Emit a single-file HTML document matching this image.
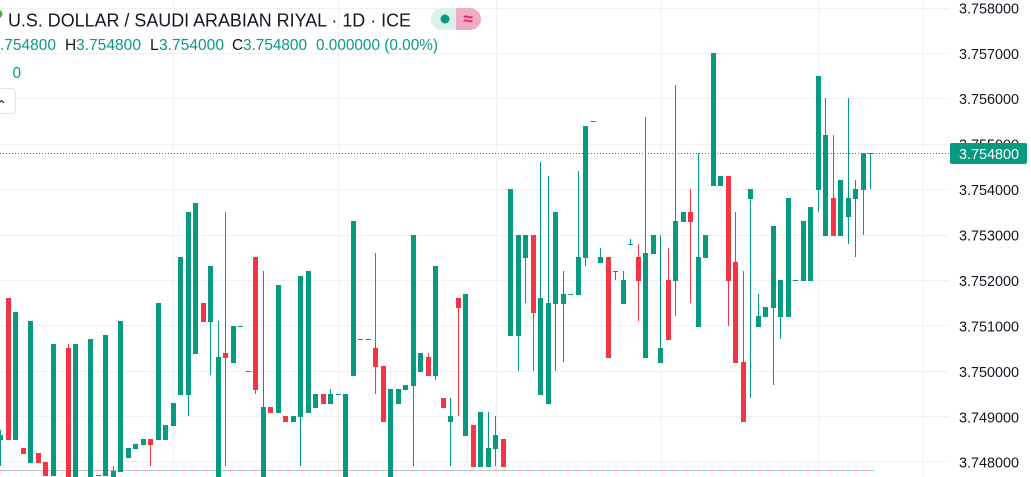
<!DOCTYPE html>
<html><head><meta charset="utf-8">
<style>
html,body{margin:0;padding:0;background:#fff;}
body{width:1031px;height:477px;overflow:hidden;}
svg{display:block;}
text{font-family:"Liberation Sans",sans-serif;}
</style></head>
<body>
<svg width="1031" height="477" viewBox="0 0 1031 477" xmlns="http://www.w3.org/2000/svg">
<rect width="1031" height="477" fill="#fff"/>
<!-- grid -->
<g fill="#f0f1f4">
<rect x="0" y="8" width="949" height="1"/>
<rect x="0" y="53" width="949" height="1"/>
<rect x="0" y="98" width="949" height="1"/>
<rect x="0" y="144" width="949" height="1"/>
<rect x="0" y="189" width="949" height="1"/>
<rect x="0" y="235" width="949" height="1"/>
<rect x="0" y="280" width="949" height="1"/>
<rect x="0" y="325" width="949" height="1"/>
<rect x="0" y="371" width="949" height="1"/>
<rect x="0" y="416" width="949" height="1"/>
<rect x="0" y="461" width="949" height="1"/>
<rect x="173" y="0" width="1" height="477"/>
<rect x="338" y="0" width="1" height="477"/>
<rect x="496" y="0" width="1" height="477"/>
<rect x="661" y="0" width="1" height="477"/>
<rect x="818" y="0" width="1" height="477"/>
<rect x="923" y="0" width="1" height="477"/>
</g>
<!-- bottom dashed lines -->
<line x1="0" y1="470.5" x2="874" y2="470.5" stroke="#f7a9ab" stroke-width="1" stroke-dasharray="6 6"/>
<line x1="6" y1="470.5" x2="874" y2="470.5" stroke="#8fd6ca" stroke-width="1" stroke-dasharray="6 6"/>
<!-- current price dotted line -->
<line x1="0" y1="153.5" x2="949" y2="153.5" stroke="#089981" stroke-width="1" stroke-dasharray="1 2"/>

<!-- green candles -->
<g fill="#089981">
<rect x="0" y="430" width="1" height="36"/><rect x="-2" y="435" width="5" height="5"/>
<rect x="13" y="312" width="5" height="128"/>
<rect x="28" y="321" width="5" height="142"/>
<rect x="51" y="344" width="5" height="132"/>
<rect x="73" y="344" width="5" height="133"/>
<rect x="88" y="339" width="5" height="138"/>
<rect x="96" y="475" width="5" height="1"/>
<rect x="103" y="335" width="5" height="141"/>
<rect x="113" y="466" width="1" height="11"/><rect x="111" y="471" width="5" height="6"/>
<rect x="118" y="321" width="5" height="151"/>
<rect x="126" y="448" width="5" height="10"/>
<rect x="133" y="444" width="5" height="5"/>
<rect x="141" y="439" width="5" height="6"/>
<rect x="156" y="303" width="5" height="137"/>
<rect x="163" y="425" width="5" height="15"/>
<rect x="171" y="403" width="5" height="23"/>
<rect x="178" y="257" width="5" height="138"/>
<rect x="188" y="212" width="1" height="204"/><rect x="186" y="212" width="5" height="183"/>
<rect x="193" y="203" width="5" height="151"/>
<rect x="210" y="266" width="1" height="109"/><rect x="208" y="266" width="5" height="56"/>
<rect x="218" y="321" width="1" height="156"/><rect x="216" y="357" width="5" height="120"/>
<rect x="231" y="326" width="5" height="37"/>
<rect x="238" y="326" width="5" height="1"/>
<rect x="246" y="371" width="5" height="1"/>
<rect x="263" y="271" width="1" height="206"/><rect x="261" y="407" width="5" height="70"/>
<rect x="276" y="285" width="5" height="128"/>
<rect x="291" y="416" width="5" height="6"/>
<rect x="300" y="276" width="1" height="190"/><rect x="298" y="276" width="5" height="141"/>
<rect x="306" y="271" width="5" height="142"/>
<rect x="313" y="394" width="5" height="14"/>
<rect x="330" y="389" width="1" height="15"/><rect x="328" y="394" width="5" height="10"/>
<rect x="336" y="394" width="5" height="1"/>
<rect x="343" y="394" width="5" height="83"/>
<rect x="351" y="221" width="5" height="155"/>
<rect x="358" y="339" width="5" height="1"/>
<rect x="366" y="339" width="5" height="1"/>
<rect x="388" y="389" width="5" height="88"/>
<rect x="396" y="389" width="5" height="15"/>
<rect x="403" y="385" width="5" height="5"/>
<rect x="413" y="235" width="1" height="231"/><rect x="411" y="235" width="5" height="151"/>
<rect x="418" y="353" width="5" height="19"/>
<rect x="435" y="266" width="1" height="114"/><rect x="433" y="266" width="5" height="110"/>
<rect x="450" y="398" width="1" height="68"/><rect x="448" y="416" width="5" height="6"/>
<rect x="463" y="294" width="5" height="142"/>
<rect x="478" y="412" width="5" height="55"/>
<rect x="488" y="412" width="1" height="55"/><rect x="486" y="448" width="5" height="19"/>
<rect x="495" y="416" width="1" height="50"/><rect x="493" y="435" width="5" height="14"/>
<rect x="508" y="189" width="5" height="147"/>
<rect x="518" y="235" width="1" height="136"/><rect x="516" y="235" width="5" height="101"/>
<rect x="525" y="235" width="1" height="68"/><rect x="523" y="235" width="5" height="23"/>
<rect x="540" y="162" width="1" height="233"/><rect x="538" y="298" width="5" height="97"/>
<rect x="548" y="176" width="1" height="228"/><rect x="546" y="303" width="5" height="101"/>
<rect x="555" y="212" width="1" height="159"/><rect x="553" y="212" width="5" height="92"/>
<rect x="563" y="271" width="1" height="91"/><rect x="561" y="294" width="5" height="10"/>
<rect x="568" y="294" width="5" height="1"/>
<rect x="578" y="171" width="1" height="124"/><rect x="576" y="257" width="5" height="38"/>
<rect x="585" y="126" width="1" height="140"/><rect x="583" y="126" width="5" height="132"/>
<rect x="591" y="121" width="5" height="1"/>
<rect x="600" y="248" width="1" height="15"/><rect x="598" y="257" width="5" height="6"/>
<rect x="615" y="271" width="1" height="9"/><rect x="613" y="271" width="5" height="1"/>
<rect x="623" y="271" width="1" height="33"/><rect x="621" y="280" width="5" height="24"/>
<rect x="630" y="239" width="1" height="6"/><rect x="628" y="244" width="5" height="1"/>
<rect x="645" y="117" width="1" height="241"/><rect x="643" y="253" width="5" height="105"/>
<rect x="651" y="235" width="5" height="19"/>
<rect x="660" y="235" width="1" height="128"/><rect x="658" y="348" width="5" height="15"/>
<rect x="675" y="85" width="1" height="231"/><rect x="673" y="221" width="5" height="60"/>
<rect x="681" y="212" width="5" height="10"/>
<rect x="698" y="153" width="1" height="174"/><rect x="696" y="257" width="5" height="70"/>
<rect x="703" y="235" width="5" height="23"/>
<rect x="711" y="53" width="5" height="133"/>
<rect x="718" y="176" width="5" height="10"/>
<rect x="750" y="189" width="1" height="209"/><rect x="748" y="189" width="5" height="10"/>
<rect x="758" y="294" width="1" height="33"/><rect x="756" y="316" width="5" height="11"/>
<rect x="763" y="307" width="5" height="10"/>
<rect x="773" y="226" width="1" height="159"/><rect x="771" y="226" width="5" height="82"/>
<rect x="780" y="280" width="1" height="59"/><rect x="778" y="280" width="5" height="37"/>
<rect x="786" y="198" width="5" height="119"/>
<rect x="793" y="280" width="5" height="1"/>
<rect x="801" y="221" width="5" height="60"/>
<rect x="808" y="207" width="5" height="74"/>
<rect x="818" y="76" width="1" height="136"/><rect x="816" y="76" width="5" height="114"/>
<rect x="825" y="98" width="1" height="138"/><rect x="823" y="135" width="5" height="101"/>
<rect x="838" y="180" width="5" height="56"/>
<rect x="848" y="98" width="1" height="146"/><rect x="846" y="198" width="5" height="19"/>
<rect x="855" y="180" width="1" height="77"/><rect x="853" y="189" width="5" height="10"/>
<rect x="863" y="153" width="1" height="82"/><rect x="861" y="153" width="5" height="37"/>
<rect x="870" y="153" width="1" height="36"/><rect x="868" y="153" width="5" height="1"/>
</g>

<!-- red candles -->
<g fill="#f23645">
<rect x="6" y="298" width="5" height="142"/>
<rect x="21" y="448" width="5" height="6"/>
<rect x="36" y="453" width="5" height="10"/>
<rect x="43" y="462" width="5" height="14"/>
<rect x="68" y="344" width="1" height="133"/><rect x="66" y="348" width="5" height="129"/>
<rect x="150" y="439" width="1" height="27"/><rect x="148" y="439" width="5" height="6"/>
<rect x="201" y="303" width="5" height="19"/>
<rect x="225" y="212" width="1" height="254"/><rect x="223" y="353" width="5" height="5"/>
<rect x="255" y="257" width="1" height="137"/><rect x="253" y="257" width="5" height="133"/>
<rect x="268" y="407" width="5" height="6"/>
<rect x="283" y="416" width="5" height="6"/>
<rect x="321" y="394" width="5" height="10"/>
<rect x="375" y="253" width="1" height="141"/><rect x="373" y="348" width="5" height="19"/>
<rect x="381" y="366" width="5" height="56"/>
<rect x="428" y="353" width="1" height="23"/><rect x="426" y="357" width="5" height="19"/>
<rect x="441" y="398" width="5" height="10"/>
<rect x="458" y="298" width="1" height="118"/><rect x="456" y="298" width="5" height="10"/>
<rect x="471" y="425" width="5" height="42"/>
<rect x="501" y="439" width="5" height="28"/>
<rect x="533" y="235" width="1" height="136"/><rect x="531" y="235" width="5" height="78"/>
<rect x="606" y="257" width="5" height="101"/>
<rect x="638" y="244" width="1" height="77"/><rect x="636" y="257" width="5" height="24"/>
<rect x="668" y="248" width="1" height="92"/><rect x="666" y="280" width="5" height="60"/>
<rect x="690" y="189" width="1" height="114"/><rect x="688" y="212" width="5" height="10"/>
<rect x="728" y="176" width="1" height="150"/><rect x="726" y="176" width="5" height="105"/>
<rect x="735" y="212" width="1" height="151"/><rect x="733" y="262" width="5" height="101"/>
<rect x="743" y="271" width="1" height="151"/><rect x="741" y="362" width="5" height="60"/>
<rect x="833" y="135" width="1" height="101"/><rect x="831" y="198" width="5" height="38"/>
</g>

<!-- price axis labels -->
<g font-size="14.5" fill="#131722">
<text x="959" y="13.4" textLength="60" lengthAdjust="spacingAndGlyphs">3.758000</text>
<text x="959" y="58.8" textLength="60" lengthAdjust="spacingAndGlyphs">3.757000</text>
<text x="959" y="104.2" textLength="60" lengthAdjust="spacingAndGlyphs">3.756000</text>
<text x="959" y="149.7" textLength="60" lengthAdjust="spacingAndGlyphs">3.755000</text>
<text x="959" y="195.1" textLength="60" lengthAdjust="spacingAndGlyphs">3.754000</text>
<text x="959" y="240.5" textLength="60" lengthAdjust="spacingAndGlyphs">3.753000</text>
<text x="959" y="286" textLength="60" lengthAdjust="spacingAndGlyphs">3.752000</text>
<text x="959" y="331.4" textLength="60" lengthAdjust="spacingAndGlyphs">3.751000</text>
<text x="959" y="376.8" textLength="60" lengthAdjust="spacingAndGlyphs">3.750000</text>
<text x="959" y="422.3" textLength="60" lengthAdjust="spacingAndGlyphs">3.749000</text>
<text x="959" y="467.7" textLength="60" lengthAdjust="spacingAndGlyphs">3.748000</text>
</g>
<rect x="950" y="143" width="77" height="21" rx="2" fill="#089981"/>
<text x="959" y="159" font-size="14.5" fill="#ffffff" textLength="60" lengthAdjust="spacingAndGlyphs">3.754800</text>

<!-- legend -->
<circle cx="-2" cy="14" r="4.5" fill="#4caf50"/>
<text x="8" y="26.7" font-size="18.3" fill="#131722" textLength="403" lengthAdjust="spacingAndGlyphs">U.S. DOLLAR / SAUDI ARABIAN RIYAL · 1D · ICE</text>
<path d="M442,8 H456 V30 H442 A11,11 0 0 1 442,8 Z" fill="#dcf1ec"/>
<path d="M456,8 H470 A11,11 0 0 1 470,30 H456 Z" fill="#f2a9c4"/>
<circle cx="445" cy="19" r="4.5" fill="#089981"/>
<text x="468" y="24.5" font-size="17" font-weight="bold" fill="#e91e63" text-anchor="middle">≈</text>

<g font-size="15.5">
<text x="0" y="50" fill="#089981" textLength="56" lengthAdjust="spacingAndGlyphs">.754800</text>
<text x="65" y="50" fill="#131722">H</text>
<text x="76" y="50" fill="#089981" textLength="65" lengthAdjust="spacingAndGlyphs">3.754800</text>
<text x="150" y="50" fill="#131722">L</text>
<text x="159" y="50" fill="#089981" textLength="65" lengthAdjust="spacingAndGlyphs">3.754000</text>
<text x="232" y="50" fill="#131722">C</text>
<text x="243" y="50" fill="#089981" textLength="64" lengthAdjust="spacingAndGlyphs">3.754800</text>
<text x="316" y="50" fill="#089981" textLength="122" lengthAdjust="spacingAndGlyphs">0.000000 (0.00%)</text>
<text x="-2.5" y="78" fill="#131722">l</text>
<text x="12.5" y="78" fill="#089981">0</text>
</g>
<rect x="-10.5" y="88.5" width="26" height="25" rx="4" fill="#fff" stroke="#e0e3eb" stroke-width="1"/>
<path d="M-1,103 L1.5,100.5 L4,103" fill="none" stroke="#131722" stroke-width="1"/>
</svg>
</body></html>
